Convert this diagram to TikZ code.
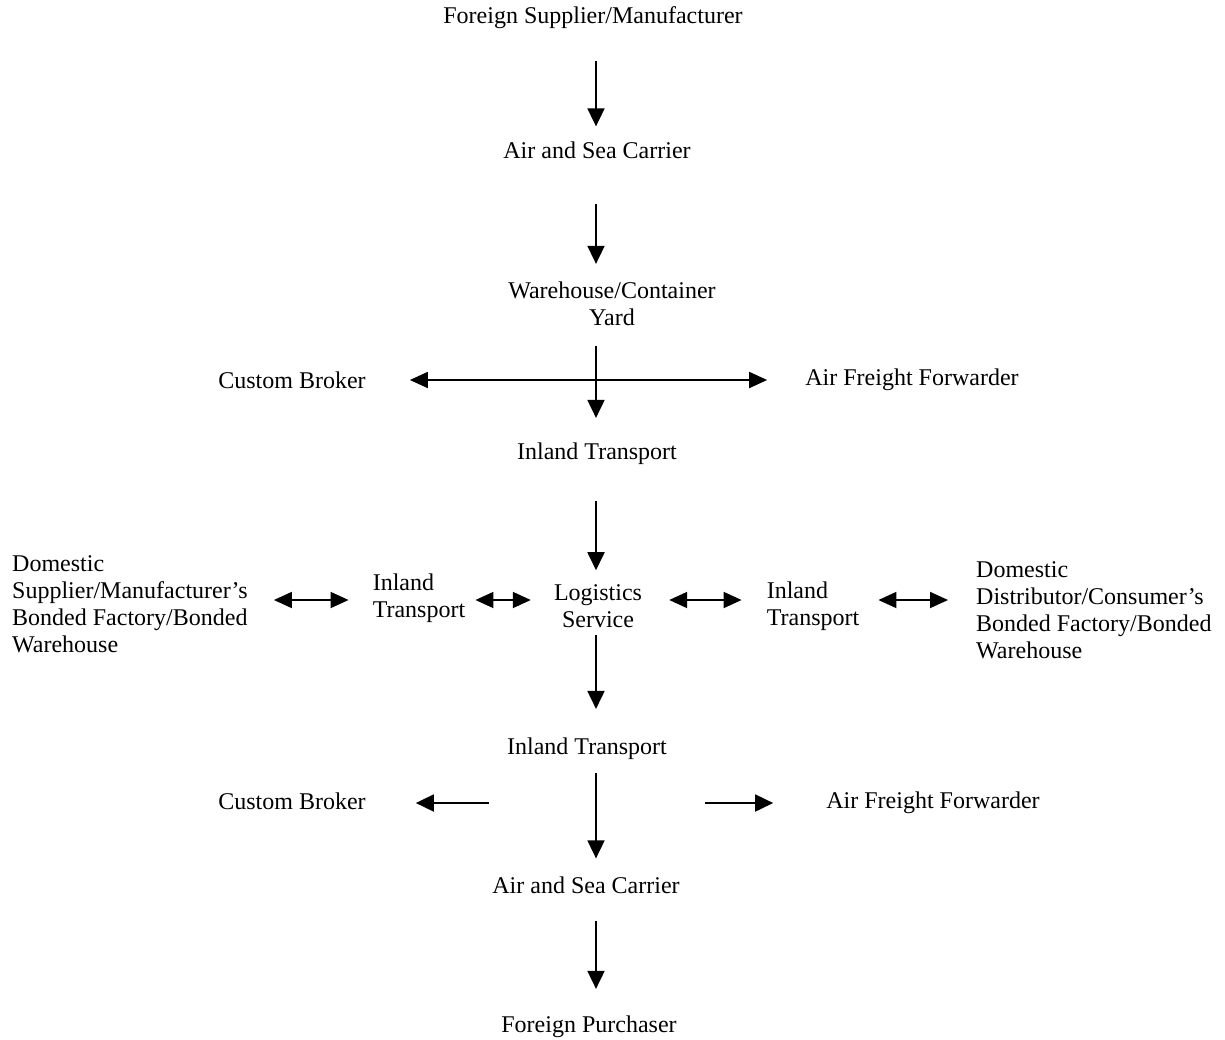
\documentclass[tikz,border=0pt]{standalone}
\usepackage{fontspec}
\setmainfont{Liberation Serif}
\usetikzlibrary{arrows.meta}

\begin{document}
\begin{tikzpicture}[x=1pt, y=-1pt, font=\fontsize{24}{27}\selectfont,
  lbl/.style={inner sep=0pt},
  arr/.style={line width=1.8pt, -{Triangle[length=18pt, width=17pt]}},
  darr/.style={line width=1.8pt, {Triangle[length=18pt, width=16pt]}-{Triangle[length=18pt, width=16pt]}}]
\useasboundingbox (0, 0) rectangle (1225, 1039);
% spine and row
\coordinate (spine) at (596, 0);
\coordinate (row) at (0, 600);
%Text
\node[lbl] (sup) at (593, 18) {Foreign Supplier/Manufacturer};
\node[lbl] (car1) at (597, 150) {Air and Sea Carrier};
\node[lbl, align=center] (wh) at (612, 304) {Warehouse/Container\\Yard};
\node[lbl] (cb1) at (292, 380) {Custom Broker};
\node[lbl] (aff1) at (912, 380) {Air Freight Forwarder};
\node[lbl] (it1) at (597, 454) {Inland Transport};
\node[lbl, align=center] (ls) at (598, 606) {Logistics\\Service};
\node[lbl, align=left] (itl) at (419, 598) {Inland\\Transport};
\node[lbl, align=left] (itr) at (813, 606) {Inland\\Transport};
\node[lbl, align=left, anchor=west] (doml) at (12, 604) {Domestic\\Supplier/Manufacturer’s\\Bonded Factory/Bonded\\Warehouse};
\node[lbl, align=left, anchor=west] (domr) at (976, 610) {Domestic\\Distributor/Consumer’s\\Bonded Factory/Bonded\\Warehouse};
\node[lbl] (it3) at (587, 749) {Inland Transport};
\node[lbl] (cb2) at (292, 801) {Custom Broker};
\node[lbl] (aff2) at (933, 803) {Air Freight Forwarder};
\node[lbl] (car2) at (586, 885) {Air and Sea Carrier};
\node[lbl] (fp) at (589, 1027) {Foreign Purchaser};
% main line
\draw[arr, shorten <=32pt, shorten >=15pt] (sup.south -| spine) -- (car1.north -| spine);
\draw[arr, shorten <=45pt, shorten >=18pt] (car1.south -| spine) -- (wh.north -| spine);
\draw[arr, shorten <=20pt, shorten >=25pt] (wh.south -| spine) -- (it1.north -| spine);
\draw[arr, shorten <=36pt, shorten >=14pt] (it1.south -| spine) -- (ls.north -| spine);
\draw[arr, shorten <=7pt, shorten >=29pt] (ls.south -| spine) -- (it3.north -| spine);
\draw[arr, shorten <=13pt, shorten >=18pt] (it3.south -| spine) -- (car2.north -| spine);
\draw[arr, shorten <=27pt, shorten >=27pt] (car2.south -| spine) -- (fp.north -| spine);
% brokers
\draw[darr, shorten <=44pt, shorten >=38pt] (cb1.east) -- (aff1.west);
\coordinate (cbl) at (489, 803);
\coordinate (affr) at (705, 803);
\draw[arr, shorten >=50pt] (cbl) -- (cb2.east |- cbl);
\draw[arr, shorten >=53pt] (affr) -- (aff2.west |- affr);
% middle row
\draw[darr, shorten <=26pt, shorten >=24pt] (doml.east |- row) -- (itl.west |- row);
\draw[darr, shorten <=10pt, shorten >=23pt] (itl.east |- row) -- (ls.west |- row);
\draw[darr, shorten <=27pt, shorten >=25pt] (ls.east |- row) -- (itr.west |- row);
\draw[darr, shorten <=19pt, shorten >=28pt] (itr.east |- row) -- (domr.west |- row);
\end{tikzpicture}
\end{document}
